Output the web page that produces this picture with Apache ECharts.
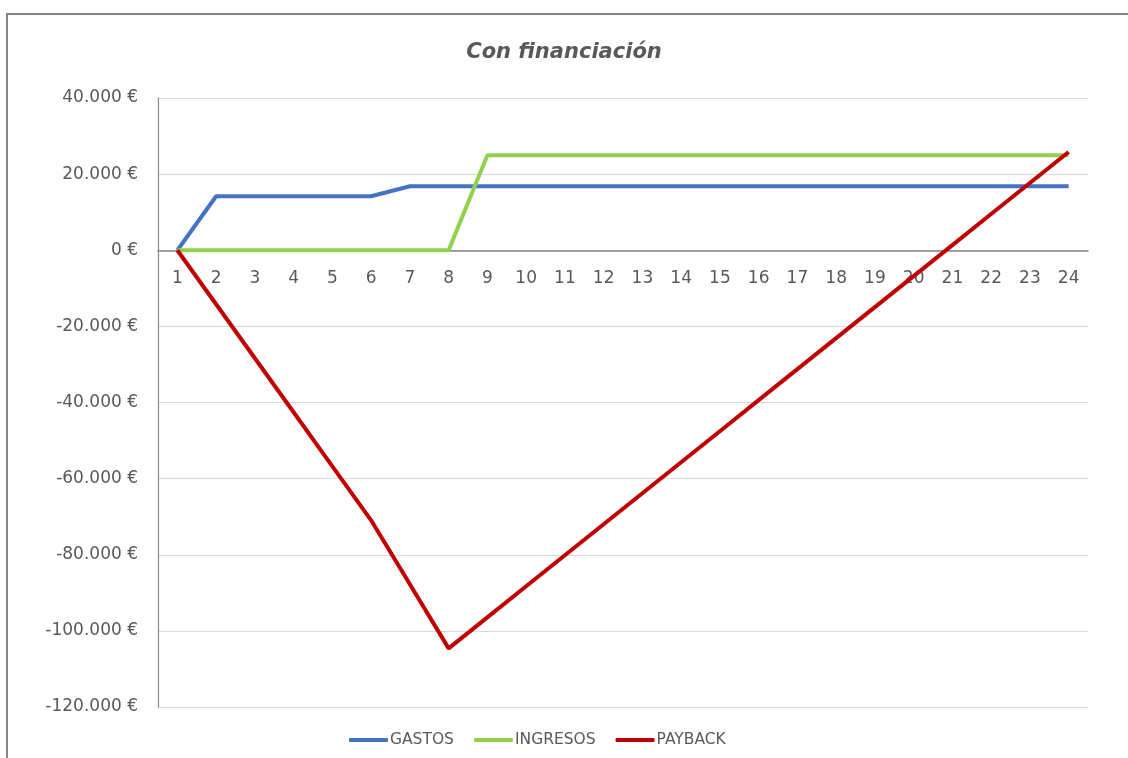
<!DOCTYPE html>
<html><head><meta charset="utf-8">
<script src="https://cdn.jsdelivr.net/npm/echarts@6/dist/echarts.min.js"></script>
<style>html,body{margin:0;padding:0;background:#fff}#c{width:1128px;height:758px}</style>
</head><body><div id="c"></div>
<script>
const categories = ['1','2','3','4','5','6','7','8','9','10','11','12','13','14','15','16','17','18','19','20','21','22','23','24'];
const gastos = [0,14190,14190,14190,14190,14190,16820,16820,16820,16820,16820,16820,16820,16820,16820,16820,16820,16820,16820,16820,16820,16820,16820,16820];
const ingresos = [0,0,0,0,0,0,0,0,24970,24970,24970,24970,24970,24970,24970,24970,24970,24970,24970,24970,24970,24970,24970,24970];
const payback = [0,-14190,-28380,-42570,-56760,-70950,-87770,-104590,-96440,-88290,-80140,-71990,-63840,-55690,-47540,-39390,-31240,-23090,-14940,-6790,1360,9510,17660,25810];
const yTicks = [-120000,-100000,-80000,-60000,-40000,-20000,0,20000,40000];

const font = '"DejaVu Sans", sans-serif';
const yMin = yTicks[0], yMax = yTicks[yTicks.length-1];
const gridTop = 98, gridBottom = 51, H = 758;
const plotH = H - gridTop - gridBottom;
// place the category axis line at the value 0 (offset from bottom of grid)
const zeroOffset = -plotH * (0 - yMin) / (yMax - yMin);
const chart = echarts.init(document.getElementById('c'));
function fmt(v){
  const s = Math.abs(v).toString().replace(/\B(?=(\d{3})+(?!\d))/g,'.');
  return (v<0?'-':'') + s + ' €';
}
chart.setOption({
  animation:false,
  graphic:[{type:'rect',shape:{x:7,y:14,width:1125,height:760},style:{fill:'none',stroke:'#858585',lineWidth:2},silent:true}],
  title:{text:'Con financiación',left:'center',top:37,textStyle:{fontFamily:font,fontSize:21,fontStyle:'italic',fontWeight:'bold',color:'#595959'}},
  legend:{bottom:10,left:349,padding:0,itemWidth:39,itemHeight:4,itemGap:20,icon:'roundRect',
    textStyle:{fontFamily:font,fontSize:15.5,color:'#595959',padding:[0,0,0,-3]},
    data:['GASTOS','INGRESOS','PAYBACK']},
  grid:{left:158,right:40,top:gridTop,bottom:gridBottom,containLabel:false},
  xAxis:{type:'category',data:categories,boundaryGap:true,position:'bottom',offset:zeroOffset,
    axisLine:{onZero:false,lineStyle:{color:'#868686',width:1.5}},
    axisTick:{show:false},
    axisLabel:{fontFamily:font,fontSize:17,color:'#595959',margin:20,interval:0},
    splitLine:{show:false}},
  yAxis:{type:'value',min:yMin,max:yMax,interval:20000,
    axisLine:{show:true,lineStyle:{color:'#8c8c8c',width:1.2}},
    axisTick:{show:false},
    axisLabel:{fontFamily:font,fontSize:17,color:'#595959',margin:20,formatter:fmt},
    splitLine:{lineStyle:{color:'#d9d9d9',width:1.2}}},
  series:[
    {name:'GASTOS',type:'line',data:gastos,symbol:'none',lineStyle:{color:'#4472C4',width:4},itemStyle:{color:'#4472C4'}},
    {name:'INGRESOS',type:'line',data:ingresos,symbol:'none',lineStyle:{color:'#92D050',width:4},itemStyle:{color:'#92D050'}},
    {name:'PAYBACK',type:'line',data:payback,symbol:'none',lineStyle:{color:'#C00000',width:4},itemStyle:{color:'#C00000'}}
  ]
});
</script></body></html>
